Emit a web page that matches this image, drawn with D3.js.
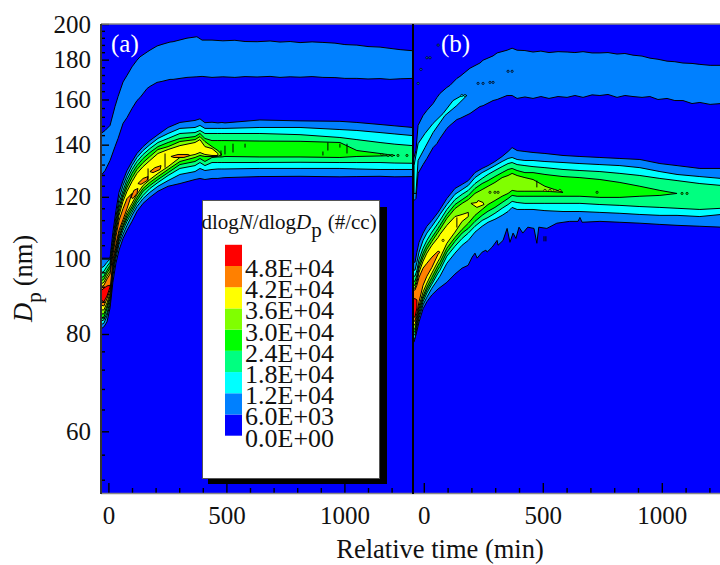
<!DOCTYPE html>
<html>
<head>
<meta charset="utf-8">
<script src="https://cdn.jsdelivr.net/npm/d3@7"></script>
<style>
  html, body { margin: 0; padding: 0; background: #fff; }
  svg { display: block; }
  text { font-family: "Liberation Serif", serif; fill: #111; }
</style>
</head>
<body>
<script>
// contour levels and legend
var levels = [6000, 12000, 18000, 24000, 30000, 36000, 42000, 48000];
var levelColors = ["#0000ff", "#0080ff", "#00ffff", "#00ff80", "#00ff00", "#80ff00", "#ffff00", "#ff8000", "#ff0000"];
var legendValues = [0, 6000, 12000, 18000, 24000, 30000, 36000, 42000, 48000];
var legendLabels = ["0.0E+00", "6.0E+03", "1.2E+04", "1.8E+04", "2.4E+04", "3.0E+04", "3.6E+04", "4.2E+04", "4.8E+04"];

// axis ticks
var yMajor = [60, 80, 100, 120, 140, 160, 180, 200];
var yMinor = [52, 56, 64, 68, 72, 76, 84, 88, 92, 96, 104, 108, 112, 116, 124, 128, 132, 136, 144, 148, 152, 156, 164, 168, 172, 176, 184, 188, 192, 196];
var xMajor = [0, 500, 1000];
var xMinor = [100, 200, 300, 400, 600, 700, 800, 900, 1100, 1200];

// panel (a), upper mode (6.0E+03 contour only)
var aUpTimes = [-31, -14, 7, 28, 41, 62, 79, 100, 121, 134, 164, 176, 206, 227, 261, 274, 333, 375, 397, 439, 485, 536, 579, 630, 685, 727, 770, 812, 863, 909, 960, 1002, 1053, 1100, 1151, 1193, 1236, 1290];
var aUpTop = [144.7, 146.0, 148.2, 156.7, 161.4, 168.5, 171.8, 176.2, 179.7, 181.5, 184.1, 185.1, 187.4, 188.3, 189.6, 189.8, 191.8, 192.6, 190.7, 190.7, 190.3, 190.6, 189.9, 189.8, 190.2, 189.6, 189.9, 189.3, 189.7, 189.4, 189.0, 188.2, 187.9, 187.1, 186.8, 186.1, 185.4, 184.8];
var aUpBottom = [127.8, 129.7, 133.6, 139.2, 142.6, 149.1, 151.7, 155.8, 159.5, 160.9, 165.3, 166.3, 168.3, 168.8, 169.8, 169.8, 170.8, 171.1, 171.3, 170.8, 171.1, 170.8, 171.2, 171.0, 171.3, 170.8, 171.1, 170.9, 171.2, 170.8, 170.7, 170.3, 170.3, 170.0, 170.2, 169.8, 170.1, 170.3];

// panel (a), main mode, upper and lower edge of every contour
var aTimes = [-32, -19, -6, 7, 19, 32, 45, 62, 79, 100, 121, 147, 176, 210, 253, 303, 367, 388, 409, 439, 464, 481, 494, 642, 812, 981, 1053, 1151, 1214, 1290];
var aT6 = [100.1, 100.1, 100.1, 100.1, 108.1, 115.2, 121.6, 125.9, 129.7, 133.2, 136.4, 139.2, 141.7, 144.2, 147.3, 149.5, 150.4, 151.1, 149.4, 149.6, 149.3, 149.5, 149.3, 150.6, 150.2, 150.0, 149.5, 148.6, 148.0, 147.3];
var aT12 = [97.2, 97.7, 98.9, 99.8, 106.1, 113.2, 119.4, 124.1, 127.8, 131.6, 134.8, 137.6, 140.0, 142.6, 144.7, 146.9, 147.3, 148.2, 146.9, 146.9, 146.9, 146.9, 146.9, 147.3, 147.3, 146.4, 146.0, 145.1, 144.5, 143.8];
var aT18 = [95.8, 96.3, 97.7, 98.9, 104.9, 111.9, 117.7, 122.3, 126.3, 130.1, 133.2, 136.0, 138.4, 140.9, 142.6, 144.7, 145.1, 146.0, 144.7, 144.7, 144.7, 144.7, 144.7, 144.7, 144.2, 143.0, 142.1, 140.9, 140.2, 139.6];
var aT24 = [94.4, 94.9, 96.6, 98.0, 103.7, 110.6, 116.3, 120.9, 124.8, 128.6, 131.6, 134.4, 136.8, 139.2, 140.9, 142.6, 143.4, 144.7, 142.6, 141.7, 141.7, 141.7, 141.7, 141.5, 141.4, 140.9, 137.6, 136.4, 135.6, null];
var aT30 = [93.5, 94.1, 95.8, 97.2, 102.8, 109.3, 114.9, 119.8, 123.4, 127.0, 130.1, 132.8, 135.2, 138.0, 139.2, 141.3, 142.1, 143.4, 141.3, 139.2, 137.6, 136.0, null, null, null, null, null, null, null, null];
var aT36 = [92.7, 93.2, 94.9, 96.3, 101.9, 108.1, 113.6, 118.4, 122.0, 125.5, 128.6, 131.2, 133.6, 136.4, 138.0, 139.6, 140.9, 142.1, 139.2, 138.4, 136.4, null, null, null, null, null, null, null, null, null];
var aT42 = [91.9, 92.4, 94.1, 95.5, 101.0, 106.8, 111.9, 115.9, 119.4, 121.2, null, null, null, null, null, null, null, null, null, null, null, null, null, null, null, null, null, null, null, null];
var aT48 = [90.8, 91.6, 92.2, 92.4, null, null, null, null, null, null, null, null, null, null, null, null, null, null, null, null, null, null, null, null, null, null, null, null, null, null];
var aB48 = [88.5, 88.0, 89.5, 91.9, null, null, null, null, null, null, null, null, null, null, null, null, null, null, null, null, null, null, null, null, null, null, null, null, null, null];
var aB42 = [87.2, 86.9, 88.8, 91.1, 99.5, 104.3, 108.7, 112.2, 115.9, 121.2, null, null, null, null, null, null, null, null, null, null, null, null, null, null, null, null, null, null, null, null];
var aB36 = [85.9, 85.9, 87.7, 90.3, 98.6, 103.4, 107.8, 111.3, 114.6, 117.7, 120.9, 124.1, 126.3, 128.6, 131.2, 134.8, 136.0, 136.8, 136.0, 135.6, 135.6, null, null, null, null, null, null, null, null, null];
var aB30 = [84.9, 84.9, 86.9, 89.5, 97.7, 102.5, 106.8, 110.3, 113.6, 116.6, 119.8, 123.0, 125.2, 127.4, 130.1, 133.2, 134.8, 135.6, 135.2, 135.2, 135.2, 136.0, null, null, null, null, null, null, null, null];
var aB24 = [83.9, 84.1, 86.2, 88.8, 96.9, 101.9, 106.1, 109.7, 112.6, 115.6, 118.7, 122.0, 124.1, 126.3, 128.9, 132.0, 133.2, 134.4, 133.2, 134.8, 135.0, 135.0, 135.2, 135.0, 135.0, 134.8, 135.2, 135.4, 135.6, null];
var aB18 = [83.1, 83.4, 85.1, 88.0, 96.0, 101.3, 105.2, 108.7, 111.6, 114.6, 117.7, 120.5, 123.0, 125.2, 127.8, 130.5, 131.6, 132.8, 131.6, 132.8, 132.8, 132.8, 132.8, 132.8, 132.9, 132.8, 132.8, 132.8, 132.6, 132.5];
var aB12 = [82.2, 82.6, 84.4, 87.2, 94.9, 100.1, 104.3, 107.4, 110.3, 113.6, 116.6, 119.4, 121.6, 123.8, 125.9, 128.2, 129.3, 130.5, 129.7, 130.1, 130.3, 130.3, 130.3, 130.5, 130.5, 130.5, 130.3, 130.1, 130.1, 130.1];
var aB6 = [81.2, 81.7, 82.9, 86.4, 93.2, 98.6, 102.5, 106.1, 108.7, 111.6, 114.9, 117.7, 119.8, 122.0, 123.8, 124.8, 126.3, 126.7, 126.3, 126.7, 126.7, 126.9, 127.0, 127.4, 127.5, 127.3, 127.4, 127.5, 127.3, 127.4];

// panel (a), islands of 4.2E+04
var aIsle1T = [96, 108, 125, 121, 104];
var aIsle1D = [119.8, 122.3, 123.0, 121.2, 119.4];
var aIsle2T = [125, 147, 168, 164, 138];
var aIsle2D = [124.8, 126.7, 127.4, 125.9, 124.5];
var aIsle3T = [176, 197, 223, 219, 189];
var aIsle3D = [129.3, 130.8, 131.6, 130.1, 128.9];
var aIsle4T = [265, 295, 337, 346, 320, 278];
var aIsle4D = [135.2, 136.0, 136.0, 135.6, 134.8, 134.8];

// small closed contours [time, Dp, level] and thin slits [time, Dp, Dp]
var aSpecks = [[1159, 136, 24000], [1185, 135.6, 24000], [1202, 135.6, 24000], [1227, 135.6, 24000], [1265, 135.6, 24000]];
var aSlits = [[168, 130.5, 125.9], [240, 136.4, 130.8], [477, 137.6, 135.2], [494, 139.6, 136.0], [528, 140.4, 136.8], [579, 140.4, 138.8], [909, 137.2, 135.6], [930, 140.9, 137.6], [981, 140.4, 138.8], [1011, 140.4, 136.4]];

// panel (b), upper mode
var bUpTimes = [-45, -33, -24, -3, 13, 39, 55, 68, 97, 110, 139, 152, 194, 236, 249, 291, 308, 350, 371, 392, 425, 459, 492, 526, 564, 602, 635, 669, 707, 740, 774, 812, 845, 879, 917, 950, 984, 1022, 1055, 1089, 1127, 1160, 1203, 1250];
var bUpTop = [133.6, 137.6, 148.2, 152.6, 154.9, 158.1, 160.9, 162.9, 165.8, 166.8, 170.3, 171.3, 175.5, 178.2, 179.7, 182.0, 183.6, 185.1, 186.2, 185.1, 184.9, 184.1, 184.6, 183.8, 184.3, 184.1, 183.8, 184.3, 183.6, 183.6, 183.8, 183.0, 183.3, 182.4, 181.9, 180.8, 180.2, 179.2, 178.9, 178.2, 178.0, 177.5, 177.0, 177.0];
var bUpBottom = [118.4, 119.4, 128.6, 132.0, 134.4, 138.8, 140.4, 142.6, 146.9, 148.2, 150.8, 151.3, 153.5, 156.7, 157.1, 159.5, 160.0, 161.9, 161.9, 160.5, 161.2, 160.5, 161.4, 160.5, 161.4, 161.0, 161.9, 161.0, 162.2, 161.9, 162.4, 161.0, 161.9, 161.4, 161.0, 161.4, 160.0, 160.5, 159.5, 159.5, 158.1, 158.6, 157.7, 158.1];
// cyan core of the upper mode in (b)
var bCoreT = [-24, 5, 39, 81, 123, 160, 181, 139, 89, 39, 5, -24, -33, -41, -41];
var bCoreD = [140.4, 144.7, 149.1, 153.5, 159.5, 161.9, 161.9, 157.2, 152.6, 145.1, 138.8, 133.6, 121.2, 121.2, 131.6];

// panel (b), main mode
var bTimes = [-45, -37, -29, -20, -3, 13, 34, 60, 68, 97, 131, 161, 187, 215, 245, 270, 299, 329, 354, 371, 392, 425, 459, 509, 585, 656, 740, 824, 908, 992, 1064, 1160, 1250];
var bT6 = [98.9, 98.9, 101.9, 104.9, 107.8, 110.0, 111.9, 114.6, 115.6, 119.4, 123.0, 124.5, 125.9, 128.9, 130.5, 131.6, 133.2, 135.2, 137.2, 138.8, 137.6, 137.2, 136.8, 136.4, 135.6, 135.2, 134.8, 134.4, 134.0, 132.4, 131.6, 130.5, 130.5];
var bT12 = [96.6, 96.6, 98.9, 101.9, 105.5, 107.8, 110.0, 112.9, 113.9, 117.3, 120.9, 122.6, 124.1, 127.0, 128.9, 130.1, 131.6, 133.2, 134.4, 134.8, 134.0, 133.6, 133.6, 133.2, 132.8, 132.4, 132.0, 131.6, 130.8, 129.3, 128.2, 127.4, 126.7];
var bT18 = [94.9, 94.9, 96.6, 99.8, 103.1, 105.5, 108.1, 111.0, 111.9, 115.6, 119.0, 120.9, 122.3, 124.8, 126.7, 128.2, 129.7, 131.2, 132.4, 132.8, 132.0, 131.6, 131.2, 130.8, 130.1, 129.7, 129.3, 128.6, 127.8, 126.7, 125.9, 124.8, 124.1];
var bT24 = [93.5, 93.5, 95.2, 98.3, 101.6, 104.0, 106.4, 109.3, 110.3, 113.9, 117.3, 119.0, 120.5, 123.0, 124.8, 125.9, 127.4, 128.9, 130.1, 130.5, 129.7, 128.9, 128.9, 128.2, 127.4, 127.0, 126.3, 125.2, 123.8, 122.3, 121.2, null, null];
var bT30 = [92.4, 92.4, 94.1, 97.2, 100.4, 102.8, 105.2, 108.1, 109.0, 112.6, 115.9, 117.7, 119.0, 121.2, 122.6, 123.8, 125.2, 127.0, 127.8, 128.6, 127.8, 127.0, 126.3, 123.8, 121.6, null, null, null, null, null, null, null, null];
var bT36 = [91.6, 91.6, 93.2, 96.0, 99.2, 101.6, 104.0, 106.4, 107.4, 110.3, 113.2, 113.9, 114.6, null, null, null, null, null, null, null, null, null, null, null, null, null, null, null, null, null, null, null, null];
var bT42 = [91.1, 91.1, 92.4, 94.6, 97.2, 98.6, 100.4, 102.2, 101.9, null, null, null, null, null, null, null, null, null, null, null, null, null, null, null, null, null, null, null, null, null, null, null, null];
var bT48 = [88.8, 88.8, 88.5, null, null, null, null, null, null, null, null, null, null, null, null, null, null, null, null, null, null, null, null, null, null, null, null, null, null, null, null, null, null];
var bB48 = [84.1, 84.1, 86.4, null, null, null, null, null, null, null, null, null, null, null, null, null, null, null, null, null, null, null, null, null, null, null, null, null, null, null, null, null, null];
var bB42 = [83.1, 83.1, 85.1, 88.0, 92.4, 94.9, 97.4, 101.3, 101.9, null, null, null, null, null, null, null, null, null, null, null, null, null, null, null, null, null, null, null, null, null, null, null, null];
var bB36 = [82.2, 82.2, 84.4, 86.9, 90.6, 93.0, 95.8, 99.2, 100.1, 104.6, 108.1, 111.6, 113.2, null, null, null, null, null, null, null, null, null, null, null, null, null, null, null, null, null, null, null, null];
var bB30 = [81.2, 81.2, 83.6, 86.2, 89.5, 91.9, 94.6, 98.0, 98.9, 103.1, 106.4, 109.0, 111.0, 113.6, 115.6, 117.3, 118.7, 120.2, 121.2, 122.3, 122.0, 122.0, 122.0, 122.0, 121.6, null, null, null, null, null, null, null, null];
var bB24 = [80.5, 80.5, 82.9, 85.4, 88.8, 91.1, 93.5, 96.9, 97.7, 101.9, 105.2, 107.8, 109.3, 111.6, 113.6, 115.0, 116.3, 118.0, 119.4, 120.5, 120.2, 120.2, 120.2, 120.2, 120.2, 120.2, 119.8, 119.8, 120.2, 120.5, 121.2, null, null];
var bB18 = [79.8, 79.8, 82.2, 84.6, 88.0, 90.3, 92.7, 95.8, 96.6, 100.7, 103.7, 106.1, 107.8, 110.0, 111.9, 112.9, 114.3, 116.0, 117.3, 118.4, 118.0, 117.7, 117.7, 117.7, 117.7, 117.7, 117.3, 117.0, 116.6, 116.3, 116.0, 115.6, 116.0];
var bB12 = [79.0, 79.0, 81.5, 83.9, 87.2, 89.2, 91.6, 94.1, 94.9, 98.6, 101.6, 104.0, 105.5, 108.1, 110.0, 111.3, 112.3, 113.6, 114.9, 116.3, 115.6, 115.6, 115.6, 115.2, 114.9, 114.9, 114.6, 114.3, 113.9, 113.6, 113.6, 113.2, 113.9];
// lower edge of the 6.0E+03 contour is jagged, so it has its own times
var bLowTimes = [-45, -41, -29, -20, -3, 13, 34, 60, 97, 131, 161, 186, 203, 215, 224, 245, 261, 266, 287, 308, 312, 333, 350, 362, 375, 387, 400, 416, 437, 463, 475, 483, 517, 559, 613, 648, 656, 665, 740, 824, 908, 992, 1064, 1160, 1250];
var bLowD = [78.1, 78.1, 80.7, 82.9, 86.2, 88.0, 89.8, 91.4, 93.2, 95.5, 97.2, 98.0, 100.4, 101.6, 100.1, 101.9, 102.5, 101.9, 103.4, 105.5, 104.0, 105.5, 109.3, 104.9, 107.8, 106.1, 109.7, 107.8, 109.7, 109.3, 104.6, 109.7, 109.3, 111.0, 111.6, 111.6, 112.9, 111.3, 111.6, 111.3, 111.0, 110.6, 110.3, 110.0, 109.7];

// panel (b), yellow island
var bIsleT = [198, 223, 228, 249, 253, 223];
var bIsleD = [117.7, 118.0, 118.7, 118.0, 117.3, 116.3];

var bSpecks = [[-12, 174.9, 6000], [13, 181, 6000], [26, 181, 6000], [-24, 167.8, 6000], [228, 167.8, 6000], [249, 167.8, 6000], [278, 168.3, 6000], [291, 168.3, 6000], [354, 173.9, 6000], [371, 173.9, 6000], [60, 187.9, 6000], [160, 161.9, 12000], [173, 161.9, 12000], [278, 121.6, 30000], [299, 121.6, 30000], [312, 121.6, 30000], [728, 121.6, 24000], [81, 105.5, 36000], [509, 122.3, 36000], [530, 122.3, 36000], [551, 122.3, 36000], [572, 122.3, 36000], [1085, 121.2, 24000], [1106, 121.2, 24000]];
var bSlits = [[505, 106.8, 105.2], [513, 106.8, 105.2], [139, 112.9, 109.6], [475, 125.9, 123.4]];

var width = 720,
    height = 565;

var svg = d3.select("body").append("svg")
    .attr("width", width)
    .attr("height", height);

var color = d3.scaleThreshold().domain(levels).range(levelColors);

// Dp axis is logarithmic and shared by both panels
var y = d3.scaleLog().domain([50, 200]).range([493, 24]);
var xa = d3.scaleLinear().domain([0, 1000]).range([108.4, 344.4]);
var xb = d3.scaleLinear().domain([0, 1000]).range([423.8, 661.8]);

// closed outline from an upper edge and a lower edge, gaps are left out
function outline(x, topT, top, botT, bot) {
  var pts = [];
  topT.forEach(function(t, i) { if (top[i] != null) pts.push([x(t), y(top[i])]); });
  var low = [];
  botT.forEach(function(t, i) { if (bot[i] != null) low.push([x(t), y(bot[i])]); });
  return d3.line()(pts.concat(low.reverse())) + "Z";
}

function drawShape(g, d, level) {
  g.append("path")
    .attr("d", d)
    .attr("fill", color(level))
    .attr("stroke", "#000")
    .attr("stroke-width", 1)
    .attr("stroke-linejoin", "round");
}

function drawPanel(id, x, left, right, bands, up, specks, slits) {
  var clip = svg.append("clipPath").attr("id", id)
    .append("rect")
    .attr("x", left).attr("y", 24)
    .attr("width", right - left).attr("height", 469);

  var g = svg.append("g").attr("clip-path", "url(#" + id + ")");

  // background is the lowest level
  g.append("rect")
    .attr("x", left).attr("y", 24)
    .attr("width", right - left).attr("height", 469)
    .attr("fill", color(0));

  up(g, x);
  bands.forEach(function(b) {
    drawShape(g, outline(x, b.topT, b.top, b.botT, b.bot), b.level);
  });

  // little closed contours
  g.selectAll("circle")
    .data(specks)
    .enter().append("circle")
    .attr("cx", function(d) { return x(d[0]); })
    .attr("cy", function(d) { return y(d[1]); })
    .attr("r", 1.1)
    .attr("fill", function(d) { return color(d[2]); })
    .attr("stroke", "#000")
    .attr("stroke-width", 0.8);

  g.selectAll("line.slit")
    .data(slits)
    .enter().append("line")
    .attr("class", "slit")
    .attr("x1", function(d) { return x(d[0]); })
    .attr("x2", function(d) { return x(d[0]); })
    .attr("y1", function(d) { return y(d[1]); })
    .attr("y2", function(d) { return y(d[2]); })
    .attr("stroke", "#000")
    .attr("stroke-width", 1);

  return g;
}

function band(times, top, bot, level) {
  return {topT: times, top: top, botT: times, bot: bot, level: level};
}

var aBands = [
  band(aTimes, aT6, aB6, 6000), band(aTimes, aT12, aB12, 12000), band(aTimes, aT18, aB18, 18000),
  band(aTimes, aT24, aB24, 24000), band(aTimes, aT30, aB30, 30000), band(aTimes, aT36, aB36, 36000),
  band(aTimes, aT42, aB42, 42000), band(aTimes, aT48, aB48, 48000),
  band(aIsle1T, aIsle1D, [], 42000), band(aIsle2T, aIsle2D, [], 42000),
  band(aIsle3T, aIsle3D, [], 42000), band(aIsle4T, aIsle4D, [], 42000)
];

var bBands = [
  {topT: bTimes, top: bT6, botT: bLowTimes, bot: bLowD, level: 6000},
  band(bTimes, bT12, bB12, 12000), band(bTimes, bT18, bB18, 18000),
  band(bTimes, bT24, bB24, 24000), band(bTimes, bT30, bB30, 30000), band(bTimes, bT36, bB36, 36000),
  band(bTimes, bT42, bB42, 42000), band(bTimes, bT48, bB48, 48000),
  band(bIsleT, bIsleD, [], 36000)
];

drawPanel("clipa", xa, 101, 413, aBands, function(g, x) {
  drawShape(g, outline(x, aUpTimes, aUpTop, aUpTimes, aUpBottom), 6000);
}, aSpecks, aSlits);

drawPanel("clipb", xb, 413, 720, bBands, function(g, x) {
  drawShape(g, outline(x, bUpTimes, bUpTop, bUpTimes, bUpBottom), 6000);
  drawShape(g, outline(x, bCoreT, bCoreD, [], []), 12000);
}, bSpecks, bSlits);

// axes, ticks point into the plot
function styleAxis(a) {
  a.select(".domain").remove();
  a.selectAll("line").attr("stroke", "#000").attr("stroke-width", 1.4);
  a.selectAll("text").style("font-size", "25px").attr("fill", "#111");
}

svg.append("g").attr("transform", "translate(101,0)")
    .call(d3.axisLeft(y).tickValues(yMajor).tickSize(-8).tickPadding(10).tickFormat(d3.format("d")))
    .call(styleAxis);
svg.append("g").attr("transform", "translate(101,0)")
    .call(d3.axisLeft(y).tickValues(yMinor).tickSize(-4).tickFormat(""))
    .call(styleAxis);

[xa, xb].forEach(function(x) {
  svg.append("g").attr("transform", "translate(0,493)")
      .call(d3.axisBottom(x).tickValues(xMajor).tickSize(-10).tickPadding(13).tickFormat(d3.format("d")))
      .call(styleAxis);
  svg.append("g").attr("transform", "translate(0,493)")
      .call(d3.axisBottom(x).tickValues(xMinor).tickSize(-5).tickFormat(""))
      .call(styleAxis);
});

// frame lines
svg.append("line").attr("x1", 101).attr("x2", 720).attr("y1", 24).attr("y2", 24).attr("stroke", "#888").attr("stroke-width", 1.5);
svg.append("line").attr("x1", 101).attr("x2", 720).attr("y1", 493.5).attr("y2", 493.5).attr("stroke", "#888").attr("stroke-width", 1.5);
svg.append("line").attr("x1", 101).attr("x2", 101).attr("y1", 24).attr("y2", 494).attr("stroke", "#333").attr("stroke-width", 2);
svg.append("line").attr("x1", 413).attr("x2", 413).attr("y1", 24).attr("y2", 494).attr("stroke", "#000").attr("stroke-width", 2);

// panel labels
svg.append("text").attr("x", 111).attr("y", 52).attr("font-size", 25).style("fill", "#fff").text("(a)");
svg.append("text").attr("x", 441).attr("y", 52).attr("font-size", 25).style("fill", "#fff").text("(b)");

// axis titles
svg.append("text").attr("x", 440).attr("y", 558).attr("text-anchor", "middle").attr("font-size", 26.5).text("Relative time (min)");

var yTitle = svg.append("text").attr("transform", "translate(32,322) rotate(-90)").attr("font-size", 26.5);
yTitle.append("tspan").attr("font-style", "italic").text("D");
yTitle.append("tspan").attr("font-size", 21).attr("dy", 9).text("p");
yTitle.append("tspan").attr("dy", -9).attr("dx", 6).text("(nm)");

// legend box with its drop shadow
svg.append("rect").attr("x", 208).attr("y", 207).attr("width", 179).attr("height", 277).attr("fill", "#000");
svg.append("rect").attr("x", 202.5).attr("y", 200.5).attr("width", 177).attr("height", 278).attr("fill", "#fff").attr("stroke", "#555").attr("stroke-width", 1);

var legendTitle = svg.append("text").attr("x", 201.5).attr("y", 229).attr("font-size", 21);
legendTitle.append("tspan").text("dlog");
legendTitle.append("tspan").attr("font-style", "italic").text("N");
legendTitle.append("tspan").text("/dlog");
legendTitle.append("tspan").attr("font-style", "italic").text("D");
legendTitle.append("tspan").attr("dy", 8).text("p");
legendTitle.append("tspan").attr("dy", -8).attr("dx", 6).text("(#/cc)");

var ly = d3.scaleLinear().domain([0, 48000]).range([435.7, 266]);
var legendStep = 6000;

svg.selectAll("rect.swatch")
  .data(legendValues)
  .enter().append("rect")
    .attr("class", "swatch")
    .attr("x", 225)
    .attr("width", 17)
    .attr("y", function(d) { return ly(d + legendStep); })
    .attr("height", function(d) { return ly(d) - ly(d + legendStep); })
    .attr("fill", function(d) { return color(d); });

svg.selectAll("text.lab")
  .data(legendValues)
  .enter().append("text")
    .attr("class", "lab")
    .attr("x", 245)
    .attr("y", function(d) { return ly(d) + 11; })
    .attr("font-size", 26)
    .text(function(d, i) { return legendLabels[i]; });
</script>
</body>
</html>
